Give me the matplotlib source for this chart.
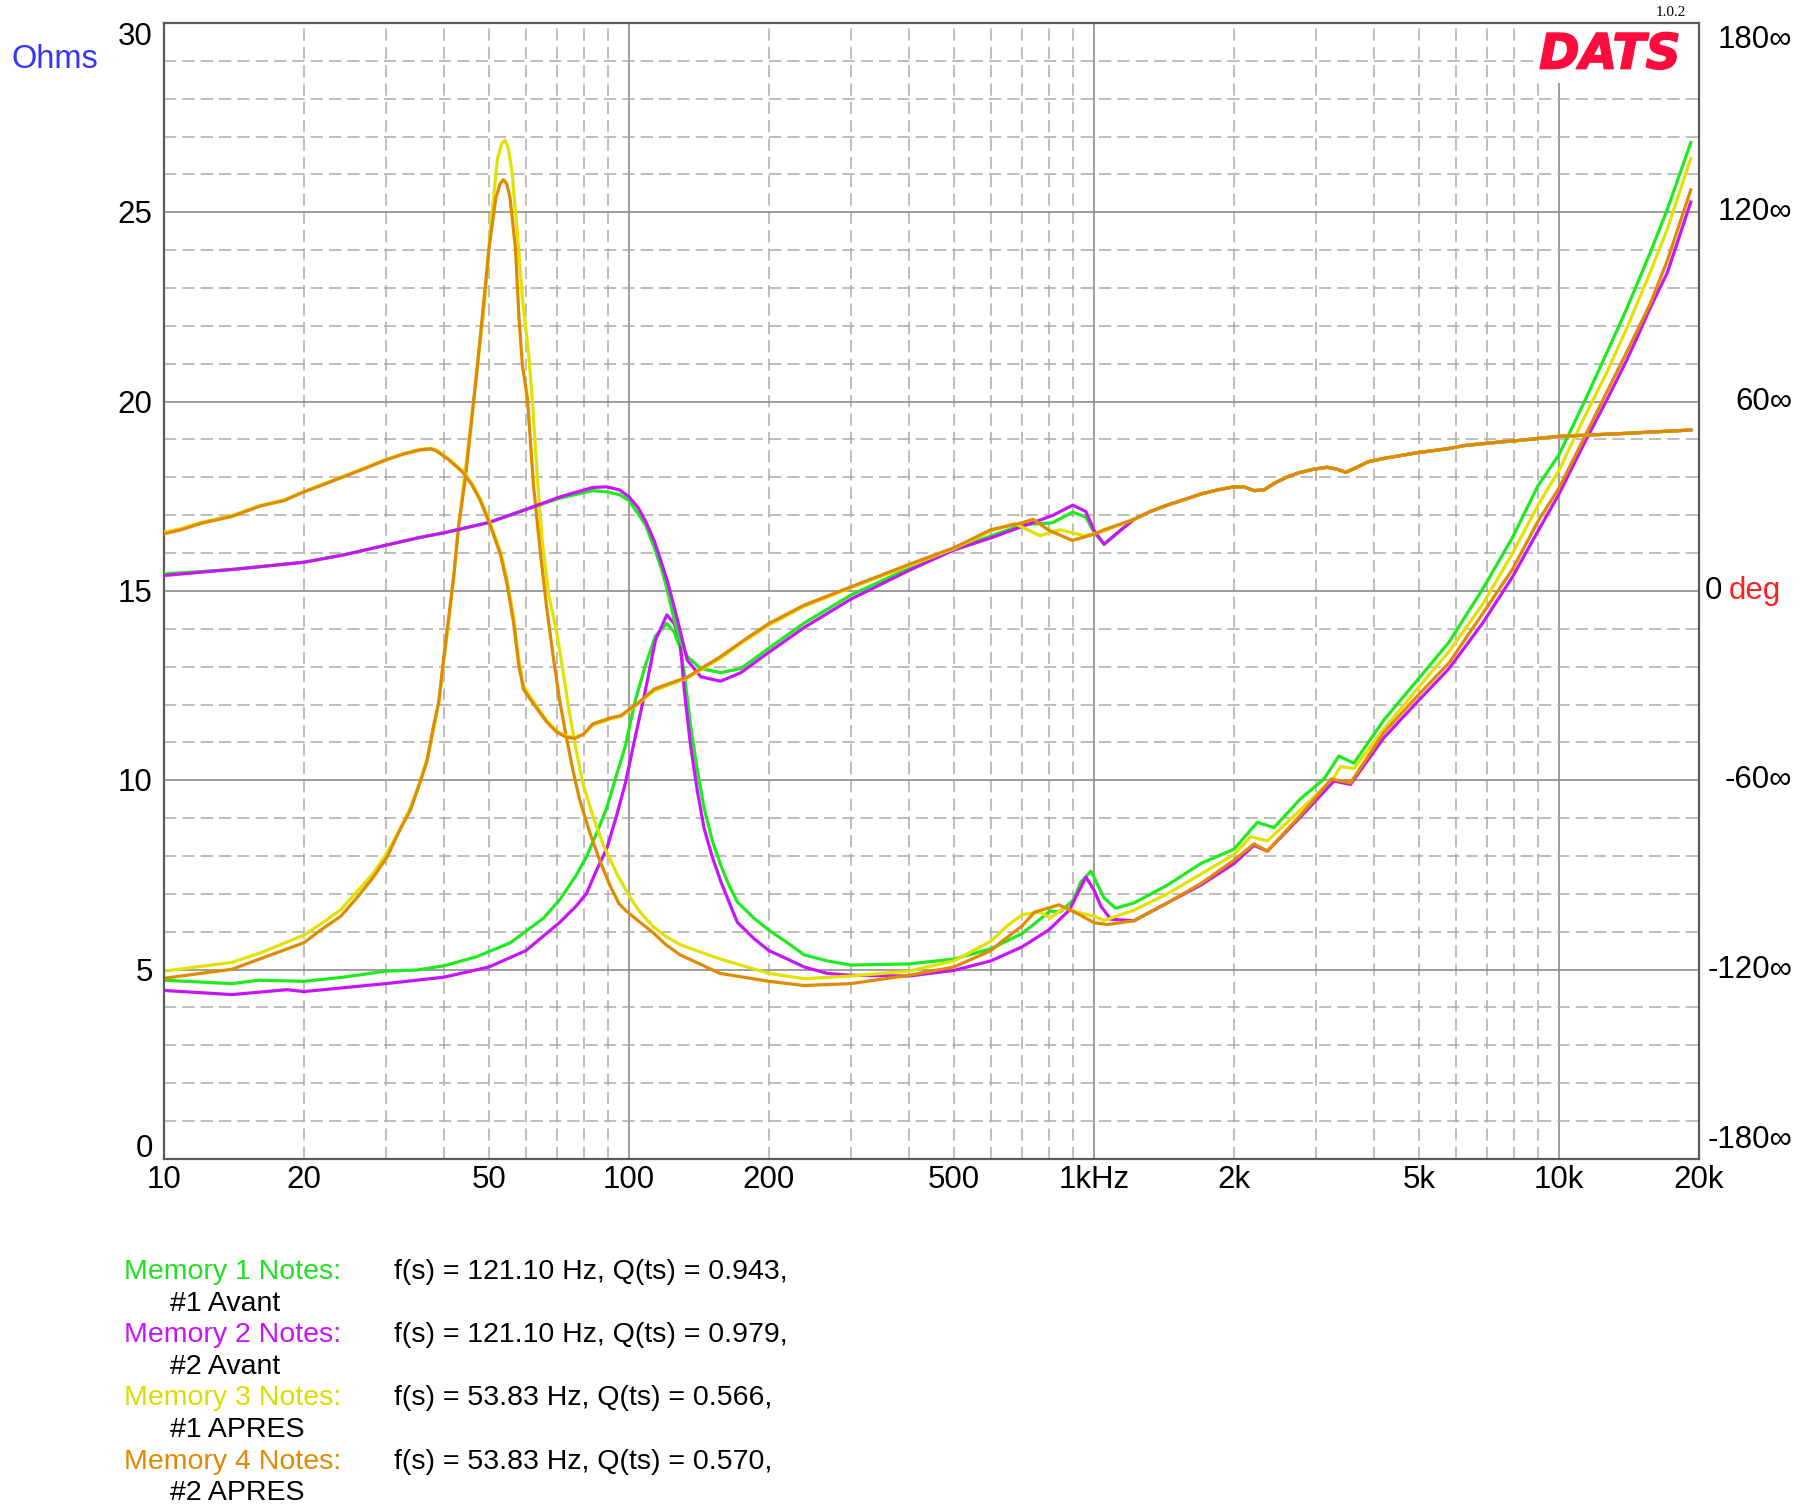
import matplotlib
matplotlib.use("Agg")
import matplotlib.pyplot as plt
import matplotlib.transforms as mtransforms
from matplotlib.patches import Rectangle
import matplotlib.patheffects as pe

plt.rcParams['font.family'] = ['Liberation Sans', 'DejaVu Sans']

# ---------------- data ----------------
# Impedance (ohms)
m1_imp_f = [10, 14, 16, 20, 24.3, 30, 35, 40, 47, 55.6,
            65.5, 71, 77, 81, 85.4, 89.6, 94, 98.2, 103, 108.6,
            114, 120.6, 125, 128.8, 131.4, 135.7, 140.3, 145, 151, 157.4,
            164, 171, 185.6, 200, 219, 238, 267, 300, 400, 500,
            600, 700, 760, 804, 845, 905, 935, 985, 1050, 1113,
            1219, 1437, 1696, 2000, 2245, 2437, 2780, 3120, 3361, 3620,
            4199, 4946, 5800, 6850, 7940, 9000, 10000, 11300, 12700, 14000,
            15700, 17100, 19200]
m1_imp = [4.72, 4.63, 4.72, 4.69, 4.80, 4.96, 4.99, 5.10, 5.34, 5.71,
          6.36, 6.85, 7.49, 7.98, 8.63, 9.28, 10.14, 10.9, 12.08, 13.06,
          13.81, 14.14, 13.92, 13.5, 12.84, 11.44, 10.25, 9.28, 8.41, 7.77,
          7.23, 6.79, 6.36, 6.04, 5.71, 5.39, 5.23, 5.12, 5.15, 5.28,
          5.55, 5.95, 6.3, 6.55, 6.52, 6.85, 7.3, 7.6, 6.9, 6.62,
          6.76, 7.23, 7.80, 8.18, 8.89, 8.75, 9.51, 10.03, 10.64, 10.45,
          11.59, 12.63, 13.65, 15.05, 16.41, 17.77, 18.6, 19.96, 21.32, 22.47,
          23.93, 25.08, 26.84]

m2_imp_f = [10, 14, 18.4, 20, 30, 40, 50, 60, 71, 77,
            81, 85.4, 89.6, 94, 98.2, 103, 108.6, 114, 120.6, 125,
            128.8, 131.4, 135.7, 140.3, 145, 151, 157.4, 164, 171, 185.6,
            200, 219, 238, 267, 300, 400, 500, 600, 700, 800,
            886, 930, 961, 1000, 1034, 1086, 1219, 1437, 1696, 2000,
            2207, 2360, 2780, 3280, 3560, 4199, 4946, 5800, 6850, 7940,
            9000, 10000, 11300, 12700, 14000, 14900, 15700, 17100, 19200]
m2_imp = [4.45, 4.34, 4.47, 4.42, 4.63, 4.80, 5.07, 5.50, 6.25, 6.68,
          7.01, 7.66, 8.20, 9.06, 9.92, 11.11, 12.41, 13.70, 14.37, 14.14,
          13.70, 12.41, 10.90, 9.71, 8.74, 7.98, 7.34, 6.79, 6.25, 5.82,
          5.50, 5.28, 5.07, 4.90, 4.85, 4.83, 4.98, 5.23, 5.6, 6.05,
          6.58, 7.1, 7.44, 7.1, 6.68, 6.33, 6.29, 6.76, 7.23, 7.80,
          8.28, 8.13, 9.03, 9.98, 9.89, 11.12, 12.06, 12.95, 14.15, 15.37,
          16.57, 17.56, 18.87, 20.07, 21.11, 21.84, 22.47, 23.41, 25.27]

m3_imp_f = [10, 14, 16.1, 20, 21.7, 24, 26, 28.2, 30.2, 32.3,
            33.9, 35.6, 36.8, 38, 39, 39.9, 40.9, 42, 43, 44.5,
            46.8, 48.8, 50.4, 52.1, 53.2, 54.1, 55.0, 56.0, 57.5, 59.0,
            60.8, 62.0, 63.5, 65.1, 67.2, 69.9, 72.2, 74.5, 77.0, 79.6,
            83.6, 88.0, 94.0, 100, 105.6, 112.6, 120, 128.8, 157, 200,
            238, 300, 400, 500, 600, 650, 700, 765, 805, 861,
            930, 1000, 1051, 1219, 1437, 1696, 2000, 2173, 2360, 2780,
            3280, 3390, 3620, 4199, 4946, 5800, 6850, 7940, 9000, 10000,
            11300, 12700, 14000, 15700, 17100, 19200]
m3_imp = [4.96, 5.19, 5.44, 5.91, 6.20, 6.58, 7.06, 7.55, 8.09, 8.74,
          9.28, 9.98, 10.57, 11.33, 12.08, 13.06, 14.14, 15.4, 16.73, 18.2,
          20.5, 22.5, 24.6, 26.4, 26.8, 26.90, 26.7, 26.08, 24.49, 22.72,
          21.3, 20.0, 18.0, 16.30, 14.89, 13.92, 12.84, 11.76, 10.79, 9.92,
          9.06, 8.30, 7.55, 6.95, 6.52, 6.14, 5.88, 5.66, 5.28, 4.90,
          4.76, 4.83, 4.96, 5.23, 5.75, 6.15, 6.45, 6.52, 6.36, 6.63,
          6.5, 6.41, 6.30, 6.57, 7.00, 7.52, 8.04, 8.51, 8.40, 9.22,
          10.08, 10.36, 10.31, 11.35, 12.40, 13.4, 14.65, 15.99, 17.25, 18.19,
          19.55, 20.80, 21.95, 23.41, 24.56, 26.42]

m4_imp_f = [10, 14, 20, 21.7, 24, 26, 28.2, 30.2, 32.3, 33.9,
            35.6, 36.8, 38, 39, 39.9, 40.9, 42, 43, 44.5, 46.8,
            48.4, 50, 51.7, 52.8, 53.7, 54.6, 55.5, 57.0, 58.0, 59.0,
            60.5, 62.3, 64.4, 66.5, 68.7, 71.0, 73.4, 75.8, 78.3, 82.3,
            86.6, 91.0, 95.2, 98.2, 105.6, 112.6, 120, 128.8, 157, 200,
            238, 300, 400, 500, 600, 630, 700, 745, 841, 921,
            1000, 1068, 1219, 1437, 1696, 2000, 2207, 2360, 2780, 3240,
            3560, 4199, 4946, 5800, 6850, 7940, 9000, 10000, 11300, 12700,
            14000, 15700, 17100, 19200]
m4_imp = [4.77, 5.01, 5.71, 6.04, 6.41, 6.90, 7.44, 7.98, 8.74, 9.22,
          9.98, 10.52, 11.44, 12.08, 13.17, 14.24, 15.4, 16.7, 18.0, 20.5,
          22.28, 24.05, 25.37, 25.75, 25.86, 25.75, 25.37, 24.05, 22.2, 20.95,
          20.07, 17.8, 16.08, 14.57, 13.27, 12.08, 11.11, 10.25, 9.49, 8.63,
          7.87, 7.22, 6.74, 6.57, 6.25, 5.98, 5.66, 5.39, 4.90, 4.69,
          4.58, 4.63, 4.85, 5.07, 5.50, 5.72, 6.15, 6.52, 6.71, 6.48,
          6.24, 6.19, 6.29, 6.76, 7.27, 7.89, 8.32, 8.13, 9.08, 10.03,
          9.93, 11.26, 12.21, 13.1, 14.4, 15.57, 16.83, 17.72, 19.02, 20.28,
          21.32, 22.58, 23.73, 25.59]

# Phase (degrees)
m12_ph_f = [10, 14, 20, 24.3, 30, 35.1, 39.9, 50, 60.2, 71,
            83.6, 89.6, 95.5, 100, 104.5, 108.6, 113.5, 118, 121, 125,
            129, 133.5, 142.7, 157.4, 174, 200, 238, 300, 400, 500,
            600, 700, 814, 900, 960, 1000, 1051, 1144, 1219, 1323,
            1437, 1560, 1696, 1840, 2000, 2100, 2207, 2320, 2440, 2600,
            2780, 2970, 3170, 3330, 3480, 3680, 3880, 4200, 4946, 5780,
            6270, 7463, 8070, 10000, 13300, 19200]
m1_ph = [5.4, 6.8, 9.1, 11.4, 14.5, 16.8, 18.4, 21.7, 25.9, 29.4,
         31.8, 31.4, 30.5, 28.6, 24.6, 20.8, 13.5, 6.0, 0.0, -9.0,
         -16.0, -20.8, -24.6, -25.9, -24.6, -18.1, -10.2, -1.3, 7.2, 13.4,
         17.4, 21.0, 21.6, 25.0, 23.4, 18.6, 14.8, 19.4, 22.7, 25.2,
         27.2, 28.9, 30.7, 32.0, 33.0, 33.0, 31.8, 32.0, 34.1, 36.1,
         37.6, 38.6, 39.2, 38.6, 37.6, 39.2, 40.9, 42.0, 43.8, 45.1,
         46.1, 47.2, 47.6, 49.0, 49.8, 51.0]
m2_ph = [4.9, 6.8, 9.1, 11.4, 14.5, 16.8, 18.4, 21.7, 25.9, 29.8,
         32.8, 33.0, 32.0, 29.8, 26.5, 22.1, 15.6, 8.0, 3.0, -5.0,
         -13.0, -22.0, -27.2, -28.6, -25.9, -19.4, -11.6, -2.6, 6.5, 13.0,
         16.8, 20.4, 23.9, 27.2, 25.2, 19.2, 14.8, 19.4, 22.7, 25.2,
         27.2, 28.9, 30.7, 32.0, 33.0, 33.0, 31.8, 32.0, 34.1, 36.1,
         37.6, 38.6, 39.2, 38.6, 37.6, 39.2, 40.9, 42.0, 43.8, 45.1,
         46.1, 47.2, 47.6, 49.0, 49.8, 51.0]

m3_ph_f = [10, 10.9, 12, 14, 16.1, 18.1, 20, 21.4, 23.2, 26.5,
           30, 32.8, 35.6, 37.5, 38.6, 41.0, 43.9, 45.9, 47.9, 50.3,
           52.9, 54.6, 56.5, 57.9, 59.3, 61.3, 63.6, 66.5, 70.0, 73.4,
           76.6, 79.9, 83.6, 91.5, 96, 104.6, 113.2, 122.9, 133.5, 145,
           157.4, 176.6, 200, 238, 300, 400, 500, 600, 675, 765,
           845, 952, 1000, 1051, 1219, 1323, 1437, 1560, 1696, 1840,
           2000, 2100, 2207, 2320, 2440, 2600, 2780, 2970, 3170, 3330,
           3480, 3680, 3880, 4200, 4946, 5780, 6270, 7463, 8070, 10000,
           13300, 19200]
m3_ph = [18.6, 19.8, 21.7, 23.9, 27.1, 28.8, 31.5, 33.2, 35.2, 38.5,
         41.7, 43.6, 44.9, 45.2, 44.6, 41.8, 38.0, 34.2, 29.2, 21.5,
         12.5, 4.0, -8.5, -21.5, -30.0, -33.5, -37.0, -41.0, -44.5, -46.0,
         -46.4, -45.2, -42.5, -40.5, -39.8, -35.8, -31.6, -29.6, -27.6, -24.4,
         -21.3, -16.0, -10.8, -4.9, 1.0, 8.0, 13.4, 19.0, 21.4, 17.5,
         19.4, 17.5, 18.2, 19.0, 22.7, 25.2, 27.2, 28.9, 30.7, 32.0,
         33.0, 33.0, 31.8, 32.0, 34.1, 36.1, 37.6, 38.6, 39.2, 38.6,
         37.6, 39.2, 40.9, 42.0, 43.8, 45.1, 46.1, 47.2, 47.6, 49.0,
         49.8, 51.0]

m4_ph_f = [10, 10.9, 12, 14, 16.1, 18.1, 20, 21.4, 23.2, 26.5,
           30, 32.8, 35.6, 37.5, 38.6, 41.0, 43.9, 45.9, 47.9, 50.3,
           52.9, 54.6, 56.5, 57.9, 59.3, 61.3, 63.6, 66.5, 70.0, 73.4,
           76.6, 79.9, 83.6, 91.5, 96, 104.6, 113.2, 122.9, 133.5, 145,
           157.4, 176.6, 200, 238, 300, 400, 500, 600, 700, 740,
           800, 898, 1000, 1051, 1219, 1323, 1437, 1560, 1696, 1840,
           2000, 2100, 2207, 2320, 2440, 2600, 2780, 2970, 3170, 3330,
           3480, 3680, 3880, 4200, 4946, 5780, 6270, 7463, 8070, 10000,
           13300, 19200]
m4_ph = [18.1, 19.4, 21.4, 23.6, 26.9, 28.6, 31.4, 33.0, 35.0, 38.3,
         41.5, 43.4, 44.7, 45.0, 44.3, 41.5, 37.6, 33.7, 28.6, 20.8,
         11.6, 2.6, -10.3, -23.3, -31.1, -34.3, -37.6, -41.5, -44.8, -46.4,
         -46.7, -45.4, -42.1, -40.2, -39.5, -35.5, -31.1, -29.2, -27.3, -24.0,
         -20.8, -15.6, -10.3, -4.5, 1.3, 8.4, 13.7, 19.4, 21.6, 22.7,
         19.2, 16.0, 18.0, 19.4, 22.7, 25.2, 27.2, 28.9, 30.7, 32.0,
         33.0, 33.0, 31.8, 32.0, 34.1, 36.1, 37.6, 38.6, 39.2, 38.6,
         37.6, 39.2, 40.9, 42.0, 43.8, 45.1, 46.1, 47.2, 47.6, 49.0,
         49.8, 51.0]

x_ticks = [10, 20, 50, 100, 200, 500, 1000, 2000, 5000, 10000, 20000]
x_ticklabels = ['10', '20', '50', '100', '200', '500', '1kHz', '2k', '5k', '10k', '20k']
y_ticks = [0, 5, 10, 15, 20, 25, 30]
phase_ticks = [180, 120, 60, 0, -60, -120, -180]

notes_labels = ['Memory 1 Notes:', 'Memory 2 Notes:', 'Memory 3 Notes:', 'Memory 4 Notes:']
notes_values = ['f(s) = 121.10 Hz, Q(ts) = 0.943,', 'f(s) = 121.10 Hz, Q(ts) = 0.979,',
                'f(s) = 53.83 Hz, Q(ts) = 0.566,', 'f(s) = 53.83 Hz, Q(ts) = 0.570,']
notes_names = ['#1 Avant', '#2 Avant', '#1 APRES', '#2 APRES']

# ---------------- styles ----------------
c_green = '#1FEA1F'
c_mag = '#C814FA'
c_yel = '#E2E200'
c_ora = '#E08A00'
colors = [c_green, c_mag, c_yel, c_ora]
label_colors = ['#1FE21F', '#C814FA', '#DCDC00', '#E08A00']
LW = 2.3

fig = plt.figure(figsize=(18, 15.11), dpi=100)
ax = fig.add_axes([0.0911, 0.2330, 0.8528, 0.7518])
ax.set_xscale('log')
ax.set_xlim(10, 20000)
ax.set_ylim(0, 30)

# grid
grid_dash = (0, (8, 4))
for dec in [10, 100, 1000, 10000]:
    for k in range(2, 10):
        f = dec * k
        if f < 20000:
            ax.axvline(f, color='#ABABAB', lw=1.1, ls=grid_dash, zorder=1)
for f in [100, 1000, 10000]:
    ax.axvline(f, color='#8C8C8C', lw=1.2, zorder=1)
for v in range(1, 30):
    if v % 5:
        ax.axhline(v, color='#ABABAB', lw=1.1, ls=grid_dash, zorder=1)
    else:
        ax.axhline(v, color='#8C8C8C', lw=1.2, zorder=1)

# impedance curves
imp_sets = [(m1_imp_f, m1_imp), (m2_imp_f, m2_imp), (m3_imp_f, m3_imp), (m4_imp_f, m4_imp)]
for (fx, vy), c in zip(imp_sets, colors):
    ax.plot(fx, vy, color=c, lw=LW, zorder=3, solid_joinstyle='round')

# phase on twin axis
ax2 = ax.twinx()
ax2.set_ylim(-180, 180)
ph_sets = [(m12_ph_f, m1_ph), (m12_ph_f, m2_ph), (m3_ph_f, m3_ph), (m4_ph_f, m4_ph)]
for (fx, vy), c in zip(ph_sets, colors):
    ax2.plot(fx, vy, color=c, lw=LW, zorder=3, solid_joinstyle='round')
ax2.set_yticks([])
for s in ax2.spines.values():
    s.set_visible(False)

# white box behind logo
ax.add_patch(Rectangle((0.892, 0.947), 0.108, 0.053, transform=ax.transAxes,
                       facecolor='white', edgecolor='none', zorder=2))

for s in ax.spines.values():
    s.set_color('#5A5A5A')
    s.set_linewidth(1.6)
    s.set_zorder(5)

ax.set_xticks(x_ticks)
ax.set_xticklabels(x_ticklabels)
ax.xaxis.set_minor_locator(matplotlib.ticker.NullLocator())
ax.tick_params(axis='x', length=0, pad=4.5, labelsize=22.5)
ax.set_yticks([])

# left y labels
ytr = mtransforms.blended_transform_factory(fig.transFigure, ax.transData)
for v in y_ticks:
    yy = v - 0.08
    if v == 30:
        yy = 29.62
    if v == 0:
        yy = 0.25
    fig.text(0.0848, yy, str(v), transform=ytr, ha='right', va='center', fontsize=22.5)

# right phase labels
for p in phase_ticks:
    yy = p / 12.0 + 15
    if p == 180:
        yy = 29.56
    if p == -180:
        yy = 0.5
    if p == 0:
        fig.text(0.957, yy, '0', transform=ytr, ha='right', va='center', fontsize=22.5)
        fig.text(0.9894, yy, 'deg', transform=ytr, ha='right', va='center', fontsize=22.5, color='#FF2020')
    else:
        fig.text(0.9956, yy, f'{p}\u221e', transform=ytr, ha='right', va='center', fontsize=22.5)

fig.text(0.0064, 0.9605, 'Ohms', color='#3535F5', fontsize=23.5, ha='left', va='center')

fig.text(0.8944, 0.9639, 'DATS', color='#FF0A3C', fontsize=35, fontweight='bold',
         fontstyle='italic', family='DejaVu Sans', ha='center', va='center',
         path_effects=[pe.withStroke(linewidth=1.2, foreground='#FF0A3C')])
fig.text(0.9367, 0.9917, '1.0.2', family='Liberation Serif', fontsize=11, ha='right', va='center')

# notes
y0 = 0.1581
for i in range(4):
    y = y0 - i * 0.0418
    fig.text(0.0689, y, notes_labels[i], color=label_colors[i], fontsize=20.5, ha='left', va='center')
    fig.text(0.2188, y, notes_values[i], color='black', fontsize=20.5, ha='left', va='center')
    fig.text(0.0944, y - 0.0209, notes_names[i], color='black', fontsize=20.5, ha='left', va='center')

fig.savefig('out.png', dpi=100, facecolor='white')
